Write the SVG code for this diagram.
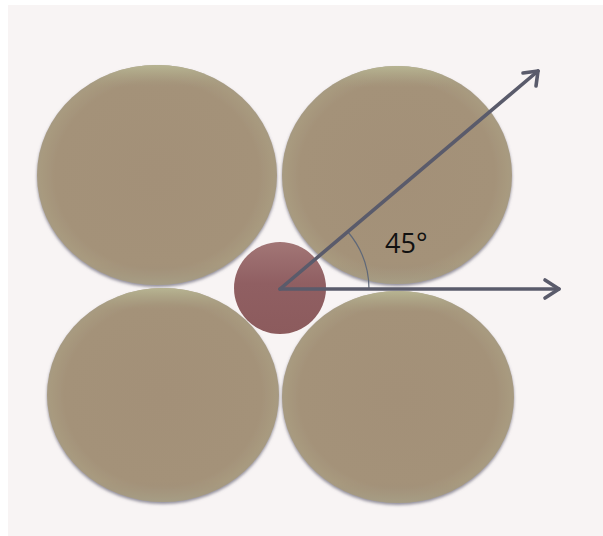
<svg xmlns="http://www.w3.org/2000/svg" width="603" height="536" viewBox="0 0 603 536">
<style>
.big{fill:url(#gBig);filter:url(#sh)}
.rim{fill:url(#gRim)}
.arrow{stroke:#5a5b6b;stroke-width:3.6;fill:none;stroke-linecap:round;stroke-linejoin:round}
.arc{stroke:#5f6878;stroke-width:1.2;fill:none}
.lbl{font-family:"Open Sans","Noto Sans",sans-serif;font-size:27px;fill:#111111}
</style>
<defs>
<radialGradient id="gBig" cx="0.5" cy="0.5" r="0.5">
<stop offset="0" stop-color="#a39078"/>
<stop offset="0.85" stop-color="#a49279"/>
<stop offset="0.97" stop-color="#a89a7f"/>
<stop offset="1" stop-color="#a69a82"/>
</radialGradient>
<linearGradient id="gRim" x1="0" y1="0" x2="0" y2="1">
<stop offset="0" stop-color="#b8b693" stop-opacity="0.95"/>
<stop offset="0.1" stop-color="#a9a083" stop-opacity="0"/>
<stop offset="0.9" stop-color="#9a8a78" stop-opacity="0"/>
<stop offset="1" stop-color="#a4a08a" stop-opacity="0.5"/>
</linearGradient>
<linearGradient id="gSmall" x1="0" y1="0" x2="0" y2="1">
<stop offset="0" stop-color="#a27676"/>
<stop offset="0.45" stop-color="#905f62"/>
<stop offset="1" stop-color="#8c5b5d"/>
</linearGradient>
<filter id="sh" x="-10%" y="-10%" width="120%" height="125%">
<feGaussianBlur in="SourceAlpha" stdDeviation="1.5"/>
<feOffset dy="1.5" result="b"/>
<feFlood flood-color="#6f6c7c" flood-opacity="0.75"/>
<feComposite in2="b" operator="in" result="s"/>
<feMerge><feMergeNode in="s"/><feMergeNode in="SourceGraphic"/></feMerge>
</filter>
</defs>
<rect x="0" y="0" width="603" height="536" fill="#ffffff"/>
<rect x="8" y="5" width="595" height="531" fill="#f8f4f4"/>
<g id="circle-top-left">
<ellipse class="big" cx="157" cy="175" rx="120" ry="110"/>
<ellipse class="rim" cx="157" cy="175" rx="120" ry="110"/>
</g>
<g id="circle-top-right">
<ellipse class="big" cx="397" cy="175" rx="115" ry="109"/>
<ellipse class="rim" cx="397" cy="175" rx="115" ry="109"/>
</g>
<g id="circle-bottom-left">
<ellipse class="big" cx="163" cy="395" rx="116" ry="107"/>
<ellipse class="rim" cx="163" cy="395" rx="116" ry="107"/>
</g>
<g id="circle-bottom-right">
<ellipse class="big" cx="398" cy="397" rx="116" ry="106"/>
<ellipse class="rim" cx="398" cy="397" rx="116" ry="106"/>
</g>
<g id="circle-center">
<circle cx="280" cy="288" r="46" fill="url(#gSmall)"/>
</g>
<g id="connectors">
<path class="arc" d="M 369 289 A 89 89 0 0 0 348 232"/>
<line class="arrow" x1="280" y1="289" x2="559" y2="289"/>
<path class="arrow" d="M 545 280 L 559 289 L 545 298"/>
<line class="arrow" x1="280" y1="289" x2="538" y2="71"/>
<path class="arrow" d="M 523 73 L 538 71 L 536 86"/>
</g>
<g id="label">
<text class="lbl" x="385" y="253">45°</text>
</g>
</svg>
